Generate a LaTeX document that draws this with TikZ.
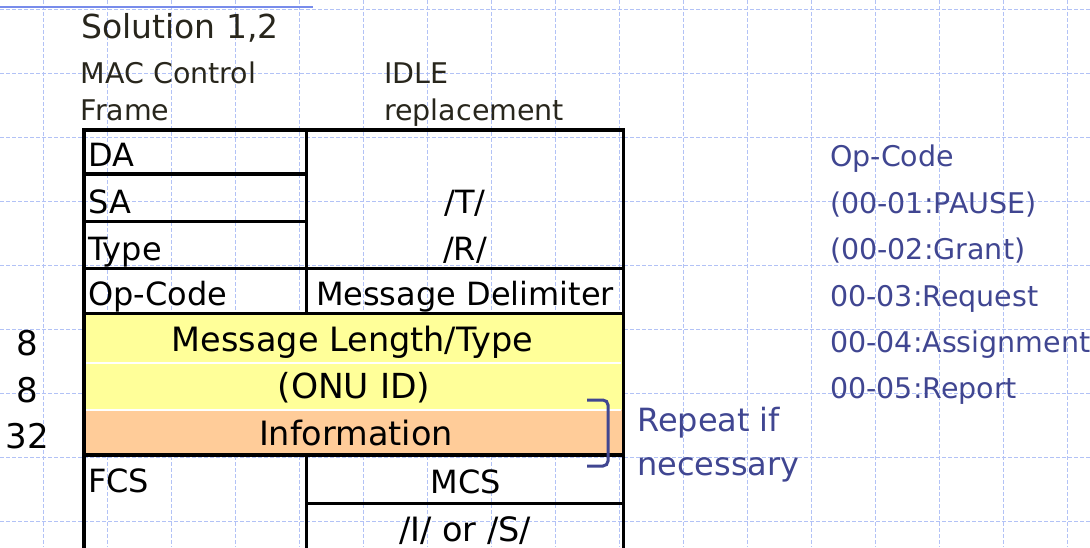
\documentclass[tikz,border=0pt]{standalone}
\usepackage{fontspec}
\setmainfont{DejaVu Sans}
\definecolor{gridblue}{RGB}{178,194,246}
\definecolor{ruleblue}{RGB}{120,140,235}
\definecolor{inkblue}{RGB}{64,70,145}
\definecolor{head}{RGB}{40,38,28}
\definecolor{fieldyellow}{RGB}{255,255,153}
\definecolor{fieldorange}{RGB}{255,204,153}
\tikzset{
  gridline/.style={gridblue, line width=1pt, dash pattern=on 4pt off 2pt},
  frame/.style={line width=3.5pt, black, line cap=rect},
  cell/.style={inner sep=0pt, text=black, font=\fontsize{32}{36}\selectfont},
  field/.style={inner sep=0pt, text=black, font=\fontsize{33.5}{36}\selectfont, anchor=base},
  bits/.style={inner sep=0pt, text=black, font=\fontsize{34}{38}\selectfont, anchor=base},
  headtext/.style={inner sep=0pt, text=head, font=\fontsize{28.5}{32}\selectfont, anchor=base west},
  note/.style={inner sep=0pt, text=inkblue, font=\fontsize{28.5}{32}\selectfont, anchor=base west},
  remark/.style={inner sep=0pt, text=inkblue, font=\fontsize{32}{36}\selectfont, anchor=base west},
}
\begin{document}
\begin{tikzpicture}[x=1pt,y=-1pt]
\useasboundingbox (0,0) rectangle (1090,547);

% background grid
\foreach \i in {0,...,16} \draw[gridline] ({43+64*\i},0) -- ({43+64*\i},547);
\foreach \j in {0,...,8} \draw[gridline] (0,{9+64.1*\j}) -- (1090,{9+64.1*\j});
\draw[ruleblue, line width=2pt] (0,7) -- (313,7);

% shaded fields
\fill[fieldyellow] (84,313.5) rectangle (623.5,410);
\fill[fieldorange] (84,410) rectangle (623.5,455);
\draw[white, line width=2pt] (86,362.7) -- (621,362.7);
\draw[white, line width=2pt] (86,410) -- (621,410);

% frame rules
\draw[frame] (84,550) -- (84,130) -- (623.5,130) -- (623.5,550);
\draw[frame] (306.5,130) -- (306.5,313.5);
\draw[frame] (84,174) -- (306.5,174);
\draw[frame] (84,221.7) -- (306.5,221.7);
\draw[frame] (84,268.5) -- (623.5,268.5);
\draw[frame] (84,313.5) -- (623.5,313.5);
\draw[frame] (84,455) -- (623.5,455);
\draw[frame] (306.5,455) -- (306.5,550);
\draw[frame, line width=3pt] (306.5,503) -- (623.5,503);

% headings
\node[headtext, font=\fontsize{33}{36}\selectfont] (title) at (81,38) {Solution 1,2};
\node[headtext] (mac1) at (80.5,83) {MAC Control};
\node[headtext] (mac2) at (80.5,120) {Frame};
\node[headtext] (idle1) at (384,83) {IDLE};
\node[headtext] (idle2) at (384,120) {replacement};

% left column
\node[cell, anchor=base west] (da) at (88,166.7) {DA};
\node[cell, anchor=base west] (sa) at (88,213) {SA};
\node[cell, anchor=base west] (type) at (88,260) {Type};
\node[cell, anchor=base west] (opcode) at (88,305) {Op-Code};
\node[cell, anchor=base west] (fcs) at (88,492) {FCS};

% right column
\node[cell, anchor=base] (tsym) at (465,213) {/T/};
\node[cell, anchor=base] (rsym) at (465,260) {/R/};
\node[cell, anchor=base] (delim) at (465,305) {Message Delimiter};
\node[cell, anchor=base] (mcs) at (466,493.3) {MCS};
\node[cell, anchor=base, font=\fontsize{33.5}{36}\selectfont] (isym) at (465,541) {/I/ or /S/};

% full-width fields
\node[field] (len) at (352.5,351.7) {Message Length/Type};
\node[field, font=\fontsize{34.5}{38}\selectfont] (onu) at (354,398) {(ONU ID)};
\node[field] (info) at (356,445) {Information};

% field sizes
\node[bits] (b1) at (27,355) {8};
\node[bits] (b2) at (27,402) {8};
\node[bits] (b3) at (27.5,448) {32};

% repeat bracket
\draw[inkblue, line width=3pt, rounded corners=5pt] (587,400) -- (608,400) -- (608,466) -- (587,466);
\node[remark] (rep1) at (637,431.7) {Repeat if};
\node[remark] (rep2) at (637,475) {necessary};

% op-code list
\node[note] (oc0) at (830,166.7) {Op-Code};
\node[note] (oc1) at (830,213) {(00-01:PAUSE)};
\node[note] (oc2) at (830,259.5) {(00-02:Grant)};
\node[note] (oc3) at (830,306.7) {00-03:Request};
\node[note] (oc4) at (830,352) {00-04:Assignment};
\node[note] (oc5) at (830,398.5) {00-05:Report};
\end{tikzpicture}
\end{document}
